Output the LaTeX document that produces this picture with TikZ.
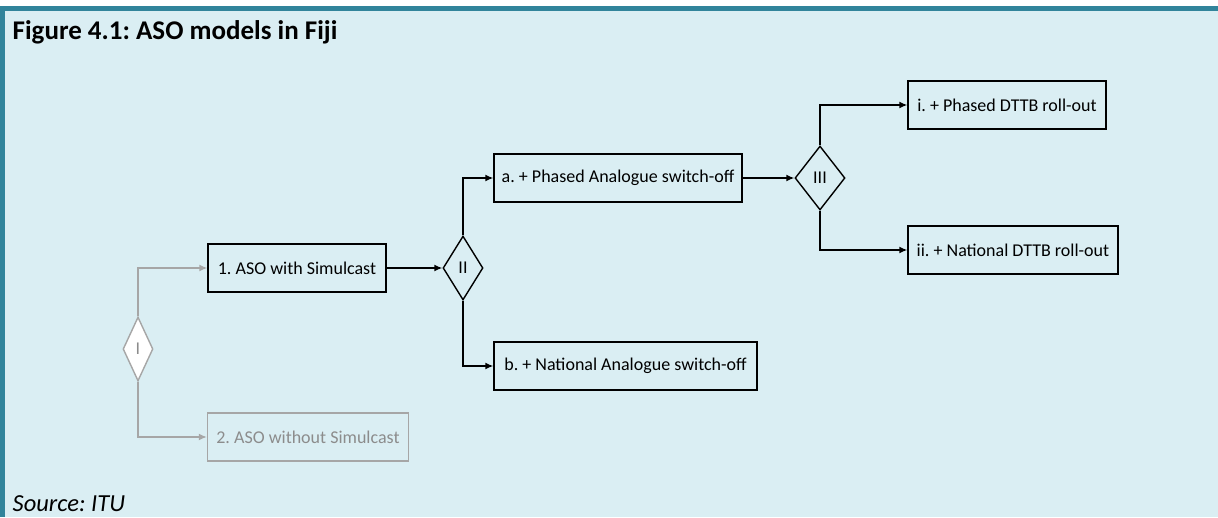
\documentclass[tikz,border=0pt]{standalone}
\usepackage{fontspec}
\setmainfont{Carlito}
\usetikzlibrary{calc,shapes.geometric,arrows.meta}
\definecolor{panel}{RGB}{218,238,243}
\definecolor{rim}{RGB}{49,132,155}
\definecolor{faded}{RGB}{166,166,166}
\definecolor{fadedtext}{RGB}{140,140,140}
\frenchspacing

\begin{document}
\begin{tikzpicture}[x=1pt,y=-1pt,
	opt/.style={draw,rectangle,minimum height=48pt,font=\fontsize{18}{21}\selectfont,inner sep=0},
	choice/.style={draw,diamond,minimum height=64pt,font=\fontsize{18}{21}\selectfont,inner sep=0},
	dim/.style={draw=faded,text=fadedtext},
	caption/.style={anchor=base west,inner sep=1pt}]
	\tikzset{every path/.style={line width=1.4pt}}
	\tikzset{>={Latex[length=8pt,width=7pt]}}
	\useasboundingbox (0,0) rectangle (1218,517);
	% panel and frame
	\fill [panel] (0,11) rectangle (1218,517);
	\fill [rim] (0,6) rectangle (1218,11);
	\fill [rim] (0,6) rectangle (5,517);
	\node [caption, font=\bfseries\fontsize{27}{32}\selectfont] (title) at (11,39) {Figure 4.1: ASO models in Fiji};
	\node [caption, font=\itshape\fontsize{24.5}{29}\selectfont] (src) at (11,511) {Source: ITU};

	\node [choice, dim, fill=white, minimum width=30pt] (c1) at (138,349) {I};
	\node [opt, minimum width=178pt] (sim) at (297,268) {1. ASO with Simulcast};
	\node [opt, dim, minimum width=201pt] (nosim) at ($(sim)+(11,169)$) {2. ASO without Simulcast};
	\node [choice, minimum width=40pt] (c2) at ($(sim)+(166,0)$) {II};
	\node [opt, minimum width=248pt] (pha) at ($(c2)+(155,-90)$) {a. + Phased Analogue switch-off};
	\node [opt, minimum width=263pt] (nat) at ($(c2)+(162.5,98)$) {b. + National Analogue switch-off};
	\node [choice, minimum width=50pt] (c3) at ($(pha)+(202,0)$) {III};
	\node [opt, minimum width=198pt] (phd) at ($(c3)+(187,-73)$) {i. + Phased DTTB roll-out};
	\node [opt, minimum width=210pt] (natd) at ($(c3)+(193,72)$) {ii. + National DTTB roll-out};

	\draw [->, faded] (c1.north) |- (sim);
	\draw [->, faded] (c1.south) |- (nosim);
	\draw [->] (sim) -- (c2);
	\draw [->] (c2.north) |- (pha);
	\draw [->] (c2.south) |- (nat);
	\draw [->] (pha) -- (c3);
	\draw [->] (c3.north) |- (phd);
	\draw [->] (c3.south) |- (natd);
\end{tikzpicture}
\end{document}
